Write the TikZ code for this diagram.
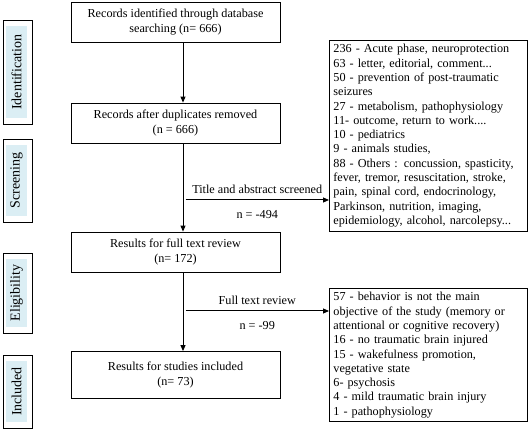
\documentclass[tikz,border=0pt]{standalone}
\usepackage{fontspec}
\setmainfont{Liberation Serif}
\usetikzlibrary{arrows.meta}
\definecolor{phaseblue}{HTML}{DBEEF4}

\begin{document}
\begin{tikzpicture}[x=1pt, y=-1pt,
  every node/.style={font=\fontsize{12.2}{14.3}\selectfont},
  recbox/.style={draw, line width=0.8pt, minimum width=209pt, align=center, inner sep=0pt},
  exclbox/.style={draw, line width=0.8pt, text width=190pt, align=left, inner xsep=4pt, inner ysep=4pt},
  phaseframe/.style={draw, line width=0.8pt, minimum width=29pt, inner sep=0pt},
  phaselabel/.style={fill=phaseblue, rotate=90, minimum height=21pt, inner sep=0pt, font=\fontsize{14}{16}\selectfont},
  flow/.style={-{Triangle[length=6pt, width=5pt]}, line width=1pt}]

\useasboundingbox (0,0) rectangle (530,430);

% phases on the left
\node[phaseframe, minimum height=104pt] (idf) at (17.5,72) {};
\node[phaselabel, minimum width=92pt] (idl) at (16.5,72) {Identification};
\node[phaseframe, minimum height=83pt] (scf) at (17.5,180.5) {};
\node[phaselabel, minimum width=71pt] (scl) at (16.5,180.5) {Screening};
\node[phaseframe, minimum height=80pt] (elf) at (17.5,293) {};
\node[phaselabel, minimum width=68pt] (ell) at (16.5,293) {Eligibility};
\node[phaseframe, minimum height=73pt] (inf) at (17.5,391.5) {};
\node[phaselabel, minimum width=61pt] (inl) at (16.5,391.5) {Included};

% records
\node[recbox, minimum height=40pt] (rec0) at (175.5,22) {Records identified through database\\searching (n= 666)};
\node[recbox, minimum height=40pt] (rec1) at (175.5,123) {Records after duplicates removed\\(n = 666)};
\node[recbox, minimum height=40pt] (rec2) at (175.5,252) {Results for full text review\\(n= 172)};
\node[recbox, minimum height=47pt] (rec3) at (175.5,375) {Results for studies included\\(n= 73)};

% excluded
\node[exclbox, anchor=north west] (ex0) at (329,40) {236 - Acute phase, neuroprotection\\
63 - letter, editorial, comment...\\
50 - prevention of post-traumatic\\
seizures\\
27 - metabolism, pathophysiology\\
11- outcome, return to work....\\
10 - pediatrics\\
9 - animals studies,\\
88 - Others : concussion, spasticity,\\
fever, tremor, resuscitation, stroke,\\
pain, spinal cord, endocrinology,\\
Parkinson, nutrition, imaging,\\
epidemiology, alcohol, narcolepsy...};
\node[exclbox, anchor=north west] (ex1) at (329,288) {57 - behavior is not the main\\
objective of the study (memory or\\
attentional or cognitive recovery)\\
16 - no traumatic brain injured\\
15 - wakefulness promotion,\\
vegetative state\\
6- psychosis\\
4 - mild traumatic brain injury\\
1 - pathophysiology};

\coordinate (spine) at (183,0);
\draw[flow] (rec0.south -| spine) -- (rec1.north -| spine);
\draw[flow] (rec1.south -| spine) -- (rec2.north -| spine);
\draw[flow] (rec2.south -| spine) -- (rec3.north -| spine);

\coordinate (br0) at (185.5,200);
\draw[flow] (br0) -- (br0 -| ex0.west)
  node[midway, above=3pt] (lab0) {Title and abstract screened}
  node[midway, below=7pt] (cnt0) {n = -494};
\coordinate (br1) at (185.5,311);
\draw[flow] (br1) -- (br1 -| ex1.west)
  node[midway, above=3pt] (lab1) {Full text review}
  node[midway, below=7pt] (cnt1) {n = -99};
\end{tikzpicture}
\end{document}
